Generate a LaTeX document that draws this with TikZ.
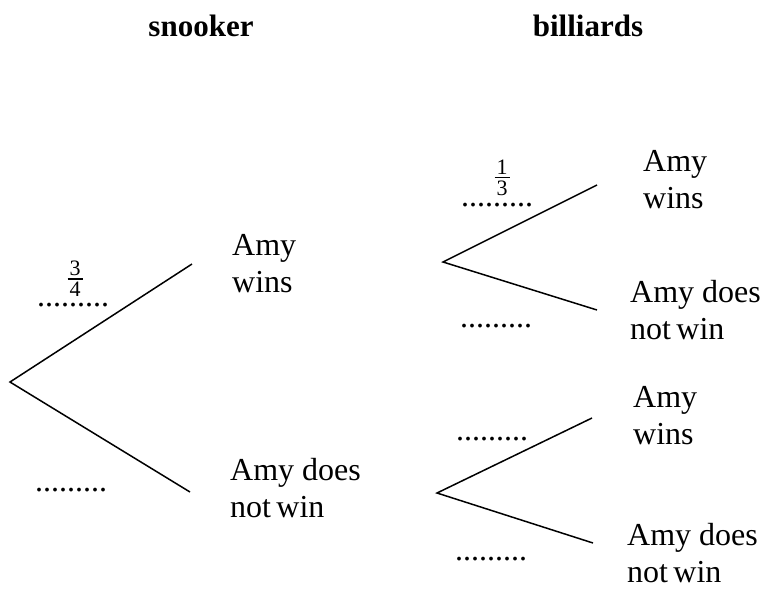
\documentclass[tikz,border=0pt]{standalone}
\usepackage{fontspec}
\setmainfont{Liberation Serif}
\newcommand{\myfrac}[2]{\vbox{\offinterlineskip\halign{\hfil\kern2pt##\kern2pt\hfil\cr #1\cr\noalign{\kern2.5pt\hrule height 1.2pt\kern2.5pt}#2\cr}}}
\begin{document}
\begin{tikzpicture}[x=1pt,y=-1pt,
  branch/.style={line width=1.5pt},
  lbl/.style={anchor=base west,inner sep=0pt,align=left,font=\fontsize{32}{37}\selectfont},
  dotsl/.style={anchor=base west,inner sep=0pt,text height=3pt,font=\fontsize{32}{37}\selectfont},
  ttl/.style={anchor=base,inner sep=0pt,font=\fontsize{31}{36}\selectfont\bfseries},
  frc/.style={anchor=north,inner sep=0pt,font=\fontsize{22}{24}\selectfont}]
\useasboundingbox (0,0) rectangle (770,590);
% titles
\node[ttl] (t1) at (201,36) {snooker};
\node[ttl] (t2) at (588,36) {billiards};
% first tree
\coordinate (r0) at (10,382);
\coordinate (e0a) at (192,264);
\coordinate (e0b) at (190,492);
\draw[branch] (e0a) -- (r0) -- (e0b);
\node[lbl] (l0a) at (232,292) {Amy\\wins};
\node[lbl] (l0b) at (230,517) {Amy does\\not\,win};
\node[dotsl] (d0a) at (37,306) {.........};
\node[dotsl] (d0b) at (35,491) {.........};
\node[frc] (f0) at (75,261) {\myfrac{3}{4}};
% second tree, upper
\coordinate (r1) at (443,262);
\coordinate (e1a) at (597,185);
\coordinate (e1b) at (597,310);
\draw[branch] (e1a) -- (r1) -- (e1b);
\node[lbl] (l1a) at (643,208) {Amy\\wins};
\node[lbl] (l1b) at (630,339) {Amy does\\not\,win};
\node[dotsl] (d1a) at (461,206) {.........};
\node[dotsl] (d1b) at (460,327) {.........};
\node[frc] (f1) at (502,160) {\myfrac{1}{3}};
% second tree, lower
\coordinate (r2) at (437,493);
\coordinate (e2a) at (592,418);
\coordinate (e2b) at (593,543);
\draw[branch] (e2a) -- (r2) -- (e2b);
\node[lbl] (l2a) at (633,444) {Amy\\wins};
\node[lbl] (l2b) at (627,582) {Amy does\\not\,win};
\node[dotsl] (d2a) at (456,440) {.........};
\node[dotsl] (d2b) at (455,560) {.........};
\end{tikzpicture}
\end{document}
